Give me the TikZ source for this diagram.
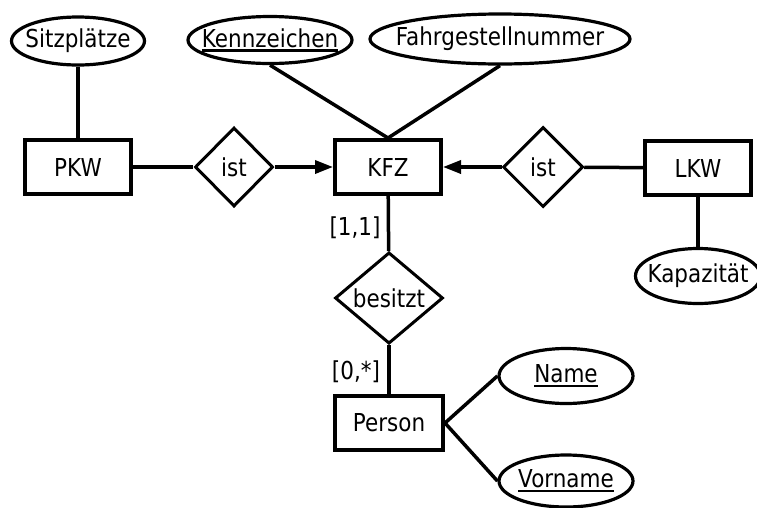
\documentclass[tikz,border=0pt]{standalone}
\usepackage{fontspec}
\setmainfont{DejaVu Sans}[FakeStretch=0.87]
\usetikzlibrary{shapes.geometric,arrows.meta}
\newcommand{\keyattr}[1]{\setbox0=\hbox{#1}\rlap{\rule[-4.5pt]{\wd0}{2.5pt}}\box0}
\tikzset{
  ent/.style={draw, line width=4pt, minimum width=106pt, minimum height=54pt, inner sep=0pt},
  rel/.style={draw, diamond, aspect=1, line width=3pt, minimum width=78pt, minimum height=79pt, inner sep=0pt},
  attr/.style={draw, ellipse, line width=3.2pt, inner sep=0pt},
  link/.style={line width=3.5pt},
  isa/.style={link, -{Triangle[length=18pt,width=13pt]}},
}
\begin{document}
\begin{tikzpicture}[x=1pt,y=-1pt,font=\fontsize{24.7}{28}\selectfont]
  \useasboundingbox (0,0) rectangle (757,507);
  \node[attr,minimum width=133pt,minimum height=48pt,label={center:Sitzplätze}] (sitz) at (78,41) {};
  \node[attr,minimum width=164pt,minimum height=47pt,label={center:\keyattr{Kennzeichen}}] (kenn) at (270,40) {};
  \node[attr,minimum width=260pt,minimum height=50pt,label={center:Fahrgestellnummer}] (fgn) at (500,39) {};
  \node[ent] (pkw) at (78,167) {PKW};
  \node[rel] (ist1) at (234,167) {ist};
  \node[ent] (kfz) at (388,167) {KFZ};
  \node[rel,minimum width=80pt,minimum height=80pt] (ist2) at (543,167) {ist};
  \node[ent] (lkw) at (698,168) {LKW};
  \node[attr,minimum width=125pt,minimum height=55pt,label={center:Kapazität}] (kap) at (698,276) {};
  \node[rel,minimum width=108pt] (bes) at (389,298) {besitzt};
  \node[ent,minimum width=108pt] (pers) at (389,423) {Person};
  \node[attr,minimum width=134pt,minimum height=55pt,label={center:\keyattr{Name}}] (name) at (566,376) {};
  \node[attr,minimum width=134pt,minimum height=52pt,label={center:\keyattr{Vorname}}] (vname) at (566,481) {};
  \node (c1) at (355,228) {[1,1]};
  \node (c2) at (356,372) {[0,*]};
  \foreach \a/\b in {sitz.south/pkw.north, kenn.south/kfz.north, fgn.south/kfz.north,
                     pkw/ist1, ist2/lkw, lkw/kap, kfz/bes, bes/pers,
                     pers.east/name.west, pers.east/vname.west}
    \draw[link] (\a) -- (\b);
  \draw[isa] (ist1) -- (kfz);
  \draw[isa] (ist2) -- (kfz);
\end{tikzpicture}
\end{document}
